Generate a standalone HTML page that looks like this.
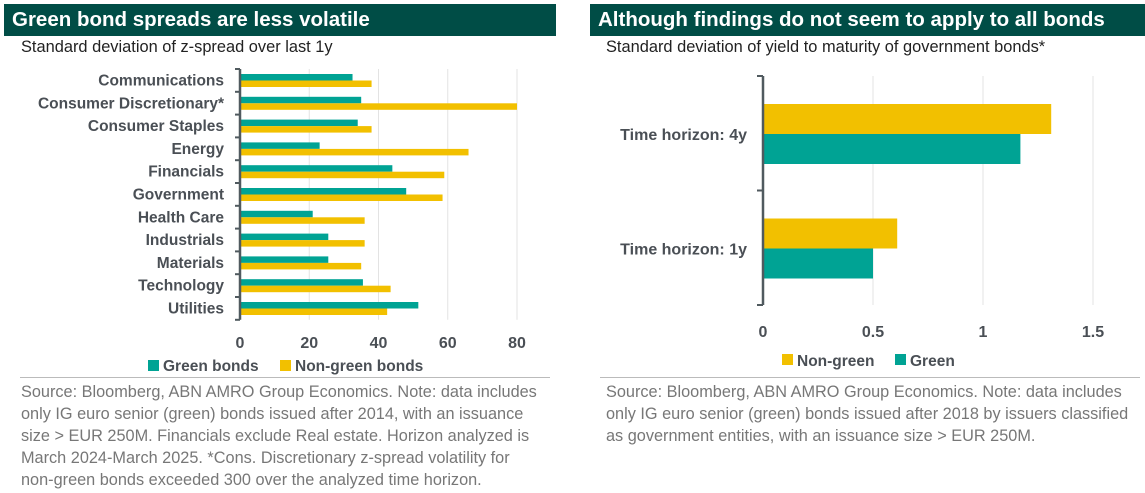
<!DOCTYPE html>
<html><head><meta charset="utf-8">
<style>
body{margin:0;width:1145px;height:493px;background:#fff;font-family:"Liberation Sans",sans-serif;position:relative;overflow:hidden}
.hdr{position:absolute;top:4px;height:32px;background:#004d46;color:#fff;font-weight:bold;font-size:20.5px;line-height:32px;padding-left:8px;box-sizing:border-box}
.sub{position:absolute;top:38px;font-size:16.4px;color:#222}
.src{position:absolute;top:381px;font-size:16.3px;line-height:22px;color:#777}
.rule{position:absolute;top:377px;height:1px;background:#bbb}
svg{position:absolute;left:0;top:0}
</style></head><body>
<div class="hdr" style="left:4px;width:552px">Green bond spreads are less volatile</div>
<div class="hdr" style="left:590px;width:555px">Although findings do not seem to apply to all bonds</div>
<div class="sub" style="left:21px">Standard deviation of z-spread over last 1y</div>
<div class="sub" style="left:606px">Standard deviation of yield to maturity of government bonds*</div>
<div class="rule" style="left:20px;width:530px"></div>
<div class="rule" style="left:600px;width:540px"></div>
<div class="src" style="left:21px">Source: Bloomberg, ABN AMRO Group Economics. Note: data includes<br>only IG euro senior (green) bonds issued after 2014, with an issuance<br>size &gt; EUR 250M. Financials exclude Real estate. Horizon analyzed is<br>March 2024-March 2025. *Cons. Discretionary z-spread volatility for<br>non-green bonds exceeded 300 over the analyzed time horizon.</div>
<div class="src" style="left:606px">Source: Bloomberg, ABN AMRO Group Economics. Note: data includes<br>only IG euro senior (green) bonds issued after 2018 by issuers classified<br>as government entities, with an issuance size &gt; EUR 250M.</div>
<svg id="chart" width="1145" height="493"></svg>
<script>
const leftCats=["Communications","Consumer Discretionary*","Consumer Staples","Energy","Financials","Government","Health Care","Industrials","Materials","Technology","Utilities"];
const leftGreen=[32.5,35,34,23,44,48,21,25.5,25.5,35.5,51.5];
const leftNonGreen=[38,80,38,66,59,58.5,36,36,35,43.5,42.5];
const leftTicks=[0,20,40,60,80];
const rightCats=["Time horizon: 4y","Time horizon: 1y"];
const rightNonGreen=[1.31,0.61];
const rightGreen=[1.17,0.5];
const rightTicks=[0,0.5,1,1.5];
const GREEN="#00a394",YEL="#f2c000",AX="#505a5f",TXT="#4a4f55";
const svg=document.getElementById('chart');
const NS="http://www.w3.org/2000/svg";
function mk(t,a,p){const e=document.createElementNS(NS,t);for(const k in a)e.setAttribute(k,a[k]);(p||svg).appendChild(e);return e;}
const lx=v=>240+v*(277/80);
const lTop=69,lStep=22.8;
leftTicks.forEach(t=>{
 const g=mk('line',{x1:lx(t),x2:lx(t),y1:lTop,y2:lTop+lStep*11,stroke:'#e3e3e3'});
 
 const tx=mk('text',{x:lx(t),y:348,'text-anchor':'middle','font-size':16,'font-weight':'bold',fill:TXT});tx.textContent=t;
 
});
leftCats.forEach((c,i)=>{
 const y0=lTop+i*lStep;
 const r1=mk('rect',{x:lx(0),y:y0+5,width:lx(leftGreen[i])-lx(0),height:6.5,fill:GREEN});
 
 const r2=mk('rect',{x:lx(0),y:y0+11.5,width:lx(leftNonGreen[i])-lx(0),height:6.5,fill:YEL});
 
 const t=mk('text',{x:224,y:y0+16.5,'text-anchor':'end','font-size':15.5,'font-weight':'bold',fill:TXT});t.textContent=c;
 
 const tk=mk('line',{x1:235,x2:lx(0),y1:y0,y2:y0,stroke:AX,'stroke-width':2});
 
});
const lt=mk('line',{x1:235,x2:lx(0),y1:lTop+lStep*11,y2:lTop+lStep*11,stroke:AX,'stroke-width':2});

const la=mk('line',{x1:lx(0),x2:lx(0),y1:lTop,y2:lTop+lStep*11,stroke:AX,'stroke-width':2.5});

[[148,GREEN,"Green bonds"],[280,YEL,"Non-green bonds"]].forEach(([x,c,l])=>{
 const r=mk('rect',{x:x,y:360,width:11,height:11,fill:c});
 const t=mk('text',{x:x+15,y:371,'font-size':15.5,'font-weight':'bold',fill:TXT});t.textContent=l;
 
});
const rx=v=>763+v*220;
const rTop=76,rStep=114.5;
rightTicks.forEach(t=>{
 if(t>0){const g=mk('line',{x1:rx(t),x2:rx(t),y1:rTop,y2:rTop+rStep*2,stroke:'#e3e3e3'});
 }
 const tx=mk('text',{x:rx(t),y:337,'text-anchor':'middle','font-size':16,'font-weight':'bold',fill:TXT});tx.textContent=t;
 
});
rightCats.forEach((c,i)=>{
 const y0=rTop+i*rStep;
 const r1=mk('rect',{x:rx(0),y:y0+28,width:rx(rightNonGreen[i])-rx(0),height:30,fill:YEL});
 
 const r2=mk('rect',{x:rx(0),y:y0+58,width:rx(rightGreen[i])-rx(0),height:30,fill:GREEN});
 
 const t=mk('text',{x:747,y:y0+64,'text-anchor':'end','font-size':16,'font-weight':'bold',fill:TXT});t.textContent=c;
 
});
[0,1,2].forEach(i=>{const tk=mk('line',{x1:757,x2:rx(0),y1:rTop+i*rStep,y2:rTop+i*rStep,stroke:AX,'stroke-width':2});
 });
const ra=mk('line',{x1:rx(0),x2:rx(0),y1:rTop,y2:rTop+rStep*2,stroke:AX,'stroke-width':2.5});

[[782,YEL,"Non-green"],[895,GREEN,"Green"]].forEach(([x,c,l])=>{
 const r=mk('rect',{x:x,y:354,width:11,height:11,fill:c});
 const t=mk('text',{x:x+15,y:366,'font-size':15.5,'font-weight':'bold',fill:TXT});t.textContent=l;
 
});
</script>
</body></html>
